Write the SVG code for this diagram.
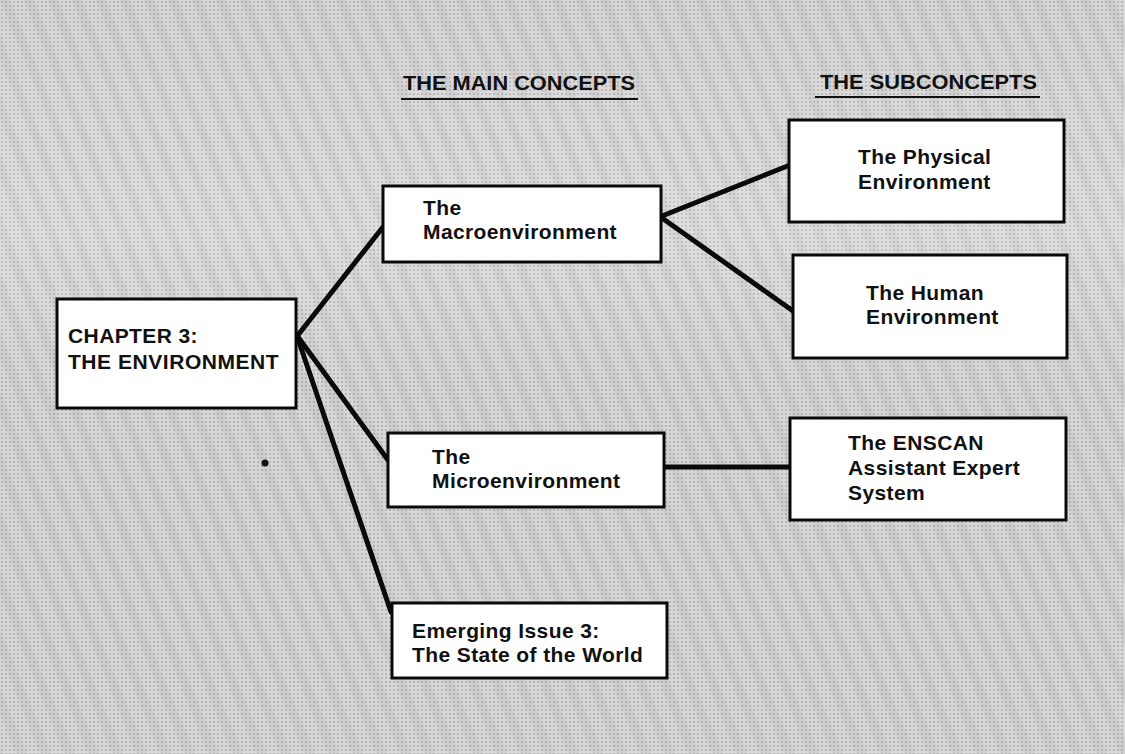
<svg xmlns="http://www.w3.org/2000/svg" width="1125" height="754" viewBox="0 0 1125 754">
  <style>
    .box { fill: #ffffff; stroke: #0a0a0a; stroke-width: 3; }
    .lbl { font-family: "Liberation Sans", Arial, sans-serif; font-weight: bold; font-size: 21px; fill: #111111; letter-spacing: 0.4px; }
    .hdr { font-family: "Liberation Sans", Arial, sans-serif; font-weight: bold; font-size: 21px; fill: #111111; }
    .conn { stroke: #0a0a0a; stroke-width: 5; stroke-linecap: round; fill: none; }
    .ul { stroke: #111111; stroke-width: 2; }
  </style>
  <defs>
    <pattern id="dots" width="4" height="4" patternUnits="userSpaceOnUse">
      <rect width="4" height="4" fill="#d8d8d8"/>
      <rect x="1" y="1" width="2" height="2" fill="#b6b6b6"/>
    </pattern>
    <pattern id="stripes" width="24" height="754" patternUnits="userSpaceOnUse" patternTransform="skewX(22)">
      <rect x="0" y="0" width="10" height="754" fill="#8a8a8a" opacity="0.13"/>
    </pattern>
    <linearGradient id="band" x1="0" y1="0" x2="0" y2="1">
      <stop offset="0" stop-color="#ffffff" stop-opacity="0"/>
      <stop offset="0.3" stop-color="#ffffff" stop-opacity="0.18"/>
      <stop offset="0.5" stop-color="#ffffff" stop-opacity="0"/>
      <stop offset="1" stop-color="#ffffff" stop-opacity="0"/>
    </linearGradient>
  </defs>

  <g id="background">
    <rect x="0" y="0" width="1125" height="754" fill="url(#dots)"/>
    <rect x="0" y="0" width="1125" height="754" fill="url(#stripes)"/>
    <rect x="0" y="0" width="1125" height="754" fill="url(#band)"/>
    <circle cx="265" cy="463" r="3.5" fill="#111111"/>
  </g>

  <g id="headers">
    <text class="hdr" x="403" y="90" textLength="232" lengthAdjust="spacingAndGlyphs">THE MAIN CONCEPTS</text>
    <line class="ul" x1="401" y1="99" x2="638" y2="99"/>
    <text class="hdr" x="820" y="89" textLength="217" lengthAdjust="spacingAndGlyphs">THE SUBCONCEPTS</text>
    <line class="ul" x1="815" y1="97" x2="1040" y2="97"/>
  </g>

  <g id="connectors">
    <line class="conn" x1="298" y1="335" x2="383" y2="227"/>
    <line class="conn" x1="298" y1="337" x2="388" y2="460"/>
    <line class="conn" x1="298" y1="339" x2="391" y2="612"/>
    <line class="conn" x1="662" y1="216" x2="790" y2="165"/>
    <line class="conn" x1="662" y1="218" x2="793" y2="311"/>
    <line class="conn" x1="664" y1="467" x2="790" y2="467"/>
  </g>

  <g id="node-chapter">
    <rect class="box" x="57" y="299" width="239" height="109"/>
    <text class="lbl" x="68" y="343">CHAPTER 3:</text>
    <text class="lbl" x="68" y="369" textLength="211" lengthAdjust="spacing">THE ENVIRONMENT</text>
  </g>

  <g id="node-macro">
    <rect class="box" x="383" y="186" width="278" height="76"/>
    <text class="lbl" x="423" y="215">The</text>
    <text class="lbl" x="423" y="239" textLength="194" lengthAdjust="spacing">Macroenvironment</text>
  </g>

  <g id="node-micro">
    <rect class="box" x="388" y="433" width="276" height="74"/>
    <text class="lbl" x="432" y="464">The</text>
    <text class="lbl" x="432" y="488">Microenvironment</text>
  </g>

  <g id="node-emerging">
    <rect class="box" x="392" y="603" width="275" height="75"/>
    <text class="lbl" x="412" y="638">Emerging Issue 3:</text>
    <text class="lbl" x="412" y="662">The State of the World</text>
  </g>

  <g id="node-physical">
    <rect class="box" x="789" y="120" width="275" height="102"/>
    <text class="lbl" x="858" y="164">The Physical</text>
    <text class="lbl" x="858" y="189">Environment</text>
  </g>

  <g id="node-human">
    <rect class="box" x="793" y="255" width="274" height="103"/>
    <text class="lbl" x="866" y="300">The Human</text>
    <text class="lbl" x="866" y="324">Environment</text>
  </g>

  <g id="node-enscan">
    <rect class="box" x="790" y="418" width="276" height="102"/>
    <text class="lbl" x="848" y="450">The ENSCAN</text>
    <text class="lbl" x="848" y="475">Assistant Expert</text>
    <text class="lbl" x="848" y="500">System</text>
  </g>
</svg>
